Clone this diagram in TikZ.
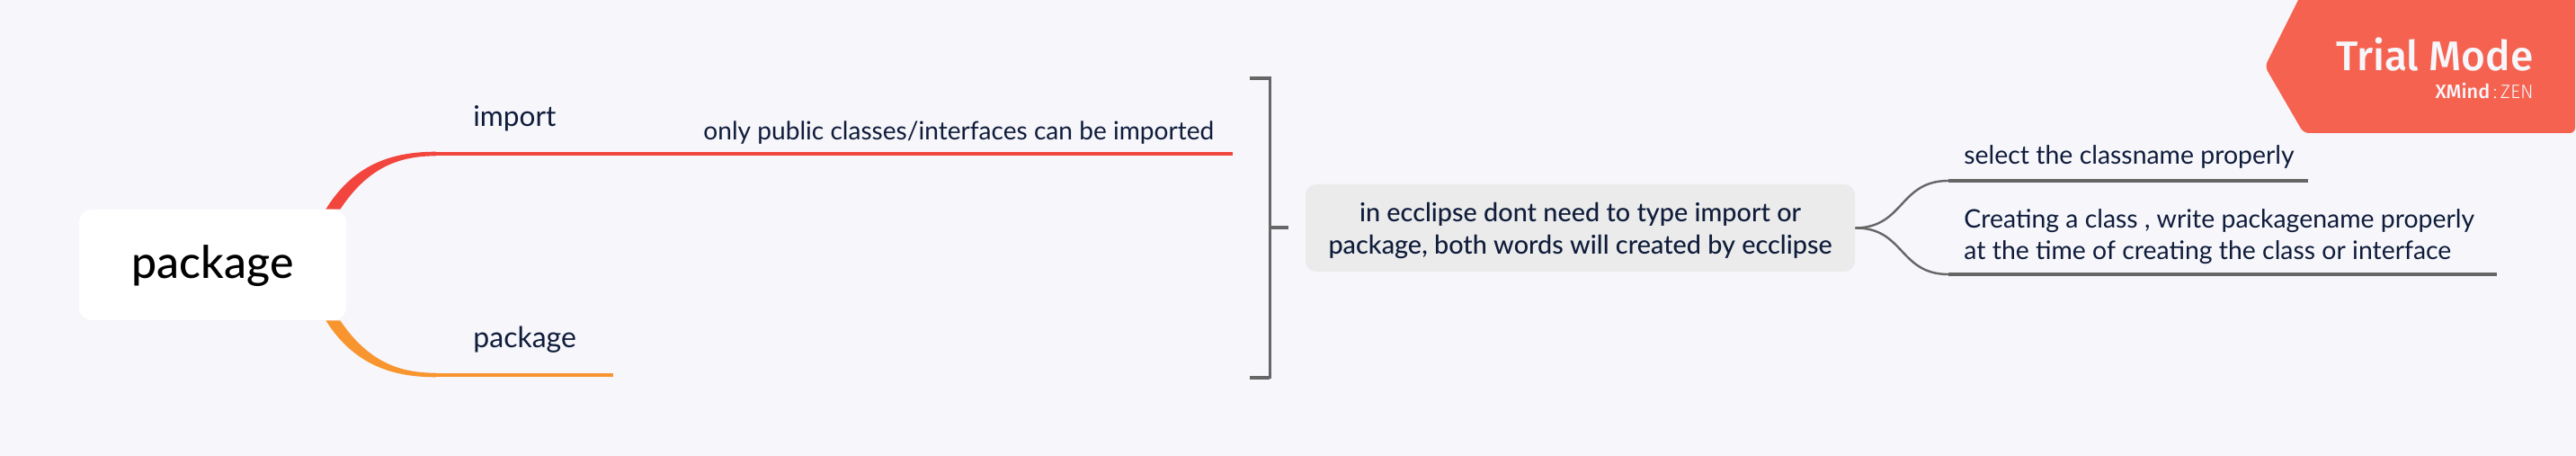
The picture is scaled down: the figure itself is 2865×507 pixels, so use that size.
\documentclass[tikz,border=0pt]{standalone}
\usepackage{fontspec}
\setmainfont{Lato}
\newfontfamily\medfont{Lato Medium}
\newfontfamily\tagfont{Fira Sans Medium}
\newfontfamily\tagthin{Fira Sans Light}
\usetikzlibrary{calc,backgrounds}
\definecolor{pagebg}{HTML}{F6F6FB}
\definecolor{inkblue}{HTML}{0F1C3A}
\definecolor{redline}{HTML}{F2453D}
\definecolor{orangeline}{HTML}{F9952F}
\definecolor{greyline}{HTML}{666666}
\definecolor{greybox}{HTML}{EBEBEB}
\definecolor{tagred}{HTML}{F56350}
\tikzset{
    root-box/.style={
        rectangle,
        rounded corners=7pt,
        fill=white,
        text=black,
        minimum width=148.5pt,
        minimum height=61.5pt,
        inner sep=0pt,
        font=\medfont\fontsize{25}{28}\selectfont,
    },
    sub-box/.style={
        rectangle,
        rounded corners=6pt,
        fill=greybox,
        text=inkblue,
        align=center,
        minimum width=305.5pt,
        minimum height=48.5pt,
        inner sep=0pt,
        font=\medfont\fontsize{14.4}{18}\selectfont,
    },
    label-text/.style={
        anchor=base west,
        inner sep=0pt,
        text=inkblue,
        font=\fontsize{15.8}{18}\selectfont,
    },
    small-text/.style={
        label-text,
        align=left,
        font=\fontsize{14.2}{17.5}\selectfont,
    },
    main-line/.style={
        line width=2.25pt,
    },
    sub-line/.style={
        draw=greyline,
        line width=2pt,
    },
    thin-curve/.style={
        draw=greyline,
        line width=1.2pt,
    },
    bracket-line/.style={
        draw=greyline,
        line width=1.5pt,
    },
    tag-text/.style={
        anchor=base east,
        inner sep=0pt,
        text=pagebg,
    },
}
\begin{document}
\begin{tikzpicture}[x=0.5pt,y=-0.5pt]
    \useasboundingbox (0,0) rectangle (2865,507);
    \node [root-box,text depth=5pt,text height=20pt] at (236.5,294.5) (root) {package};
    \coordinate (import-start) at (485,171);
    \coordinate (import-end) at (1371,171);
    \coordinate (package-start) at (485,417);
    \coordinate (package-end) at (682,417);
    \begin{scope}[on background layer]
        \fill[pagebg] (0,0) rectangle (2865,507);
        \fill[redline] ($(root.north east)+(-23,0)$) .. controls (395,180) and (440,168.7) .. ($(import-start)+(0,-2.3)$)
            -- ($(import-start)+(0,2.3)$) .. controls (445,173.5) and (410,185) .. ($(root.north east)+(-7,0)$) -- cycle;
        \fill[orangeline] ($(root.south east)+(-23,0)$) .. controls (395,408) and (440,419.3) .. ($(package-start)+(0,2.3)$)
            -- ($(package-start)+(0,-2.3)$) .. controls (445,414.7) and (410,403) .. ($(root.south east)+(-7,0)$) -- cycle;
    \end{scope}
    \draw[main-line,redline] (import-start) -- (import-end);
    \draw[main-line,orangeline] (package-start) -- (package-end);
    \node [label-text] at (526,141) (import) {import};
    \node [label-text,font=\fontsize{16}{18}\selectfont] at (526,387) (package) {package};
    \node [small-text,font=\fontsize{14.05}{17.5}\selectfont] at (782,156) (public) {only public classes/interfaces can be imported};
    % bracket
    \coordinate (bracket-top) at (1390,87);
    \coordinate (bracket-bottom) at (1390,420);
    \draw[bracket-line] (bracket-top) -- (1412,87) -- (1412,420) -- (bracket-bottom);
    \node [sub-box] at (1757.5,253.5) (ecclipse) {\rule{0pt}{13.5pt}in ecclipse dont need to type import or\\package, both words will created by ecclipse};
    \coordinate (bracket-mid) at (1412,253);
    \coordinate (bracket-tick) at (1433,253);
    \draw[sub-line] (bracket-mid) -- (bracket-tick);
    \draw[sub-line] (bracket-top) -- +(22,0);
    \draw[sub-line] (bracket-bottom) -- +(22,0);
    % right side
    \coordinate (select-start) at (2167,201);
    \coordinate (select-end) at (2567,201);
    \coordinate (create-start) at (2167,305);
    \coordinate (create-end) at (2777,305);
    \draw[thin-curve] (ecclipse.east) .. controls (2118,253) and (2112,201) .. (select-start);
    \draw[thin-curve] (ecclipse.east) .. controls (2118,253) and (2112,305) .. (create-start);
    \draw[sub-line] (select-start) -- (select-end);
    \draw[sub-line] (create-start) -- (create-end);
    \node [small-text] at (2184,183) (select) {select the classname properly};
    \node [small-text] at (2184,289) (create) {Creating a class , write packagename properly\\at the time of creating the class or interface};
    % trial tag
    \fill[tagred,rounded corners=3pt] (2562,-12) -- (2864,-12) -- (2864,148) -- (2562,148) -- (2519,74) -- cycle;
    \node [tag-text,font=\tagfont\fontsize{23}{28}\selectfont] at (2818,79) (trial) {Trial Mode};
    \node [tag-text,font=\tagthin\fontsize{10.8}{12}\selectfont] at (2818,110) (xmind) {{\tagfont XMind}\,:\,ZEN};
\end{tikzpicture}
\end{document}
